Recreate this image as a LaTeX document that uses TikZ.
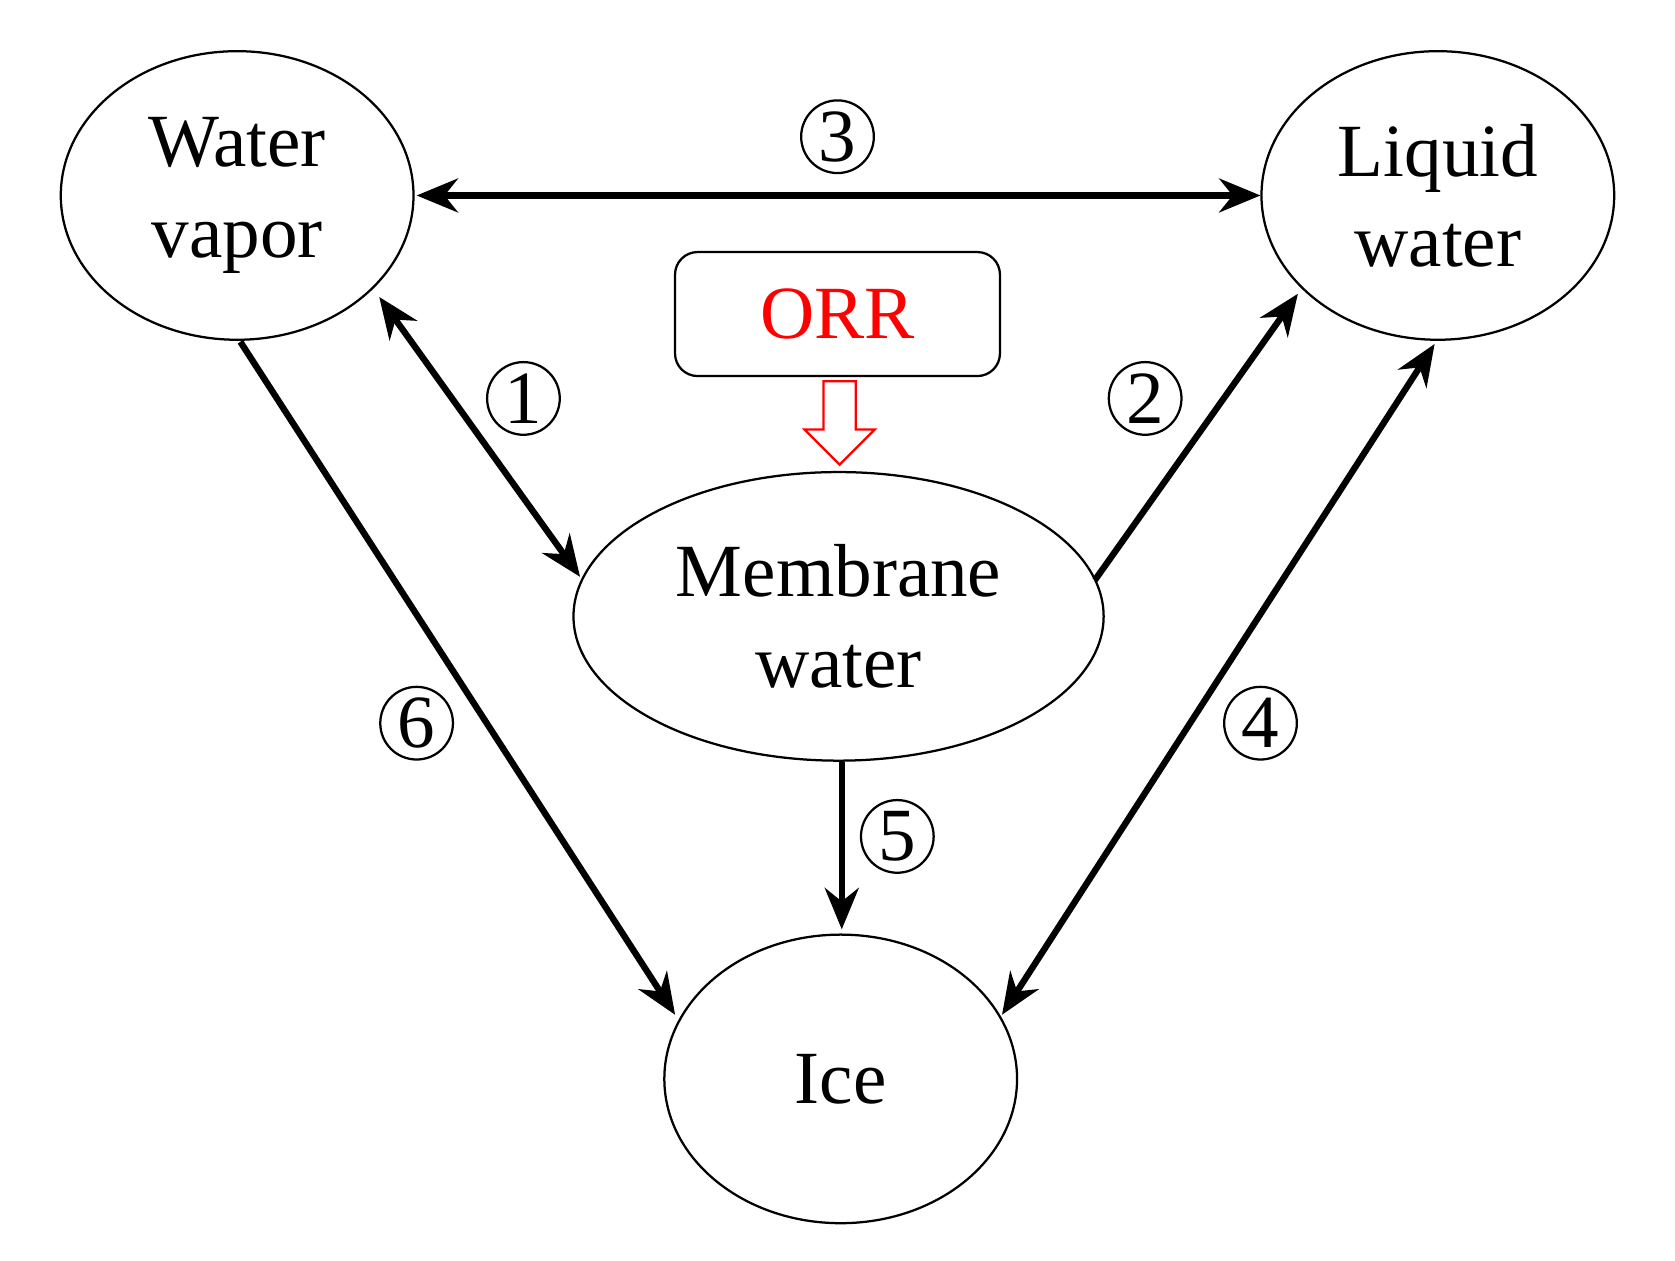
\documentclass[tikz,border=0pt]{standalone}
\usepackage{fontspec}
\setmainfont{Liberation Serif}
\usetikzlibrary{shapes.geometric,arrows.meta}
\begin{document}
\begin{tikzpicture}[x=0.01cm,y=-0.01cm,
  st/.style={draw,ellipse,line width=0.6pt,align=center,inner sep=0pt,font=\fontsize{20}{24}\selectfont},
  con/.style={line width=1.7pt,-{Stealth[length=11pt,width=9pt]}},
  bi/.style={line width=1.7pt,{Stealth[length=11pt,width=9pt]}-{Stealth[length=11pt,width=9pt]}},
  num/.style={draw,circle,line width=0.6pt,minimum size=0.68cm,inner sep=0pt,font=\fontsize{20}{22}\selectfont}]
\useasboundingbox (0,0) rectangle (1568,1180);
\node[st,minimum width=3.3cm,minimum height=2.7cm] (wv) at (222,183) {Water\\vapor};
\node[st,minimum width=3.3cm,minimum height=2.7cm] (lw) at (1346,183) {Liquid\\water};
\node[st,minimum width=4.96cm,minimum height=2.7cm] (mw) at (785,577) {Membrane\\water};
\node[st,minimum width=3.3cm,minimum height=2.7cm] (ice) at (787,1010) {Ice};
\node[draw,rounded corners=6pt,line width=0.6pt,minimum width=3.04cm,minimum height=1.16cm,text=red,font=\fontsize{20}{24}\selectfont] (orr) at (784,294) {ORR};
\coordinate (a1) at (355,278); \coordinate (b1) at (543,540);
\coordinate (a2) at (1025,543); \coordinate (b2) at (1215,275);
\coordinate (a3) at (390,183); \coordinate (b3) at (1180,183);
\coordinate (a4) at (1343,322); \coordinate (b4) at (938,950);
\coordinate (a5) at (788,713); \coordinate (b5) at (788,870);
\coordinate (a6) at (225,320); \coordinate (b6) at (632,950);
\draw[bi] (a1) -- (b1);
\draw[con] (a2) -- (b2);
\draw[bi] (a3) -- (b3);
\draw[bi] (a4) -- (b4);
\draw[con] (a5) -- (b5);
\draw[con] (a6) -- (b6);
\draw[red,line width=0.6pt,fill=white] (771,357) -- (801,357) -- (801,402) -- (819,402) -- (786,435) -- (753,402) -- (771,402) -- cycle;
\node[num] (n1) at (490,373) {1};
\node[num] (n2) at (1072,373) {2};
\node[num] (n3) at (784,128) {3};
\node[num] (n4) at (1180,677) {4};
\node[num] (n5) at (840,783) {5};
\node[num] (n6) at (390,677) {6};
\end{tikzpicture}
\end{document}
